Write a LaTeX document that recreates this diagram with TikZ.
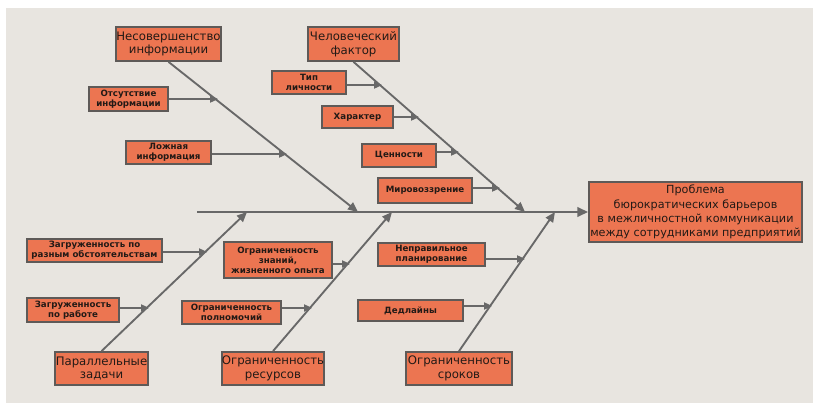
\documentclass[tikz,border=0pt]{standalone}
\usepackage{fontspec}
\setmainfont{DejaVu Sans}
\usetikzlibrary{arrows.meta}
\definecolor{bg}{HTML}{E8E5E0}
\definecolor{boxfill}{HTML}{EC7551}
\definecolor{boxline}{HTML}{5E5A58}
\definecolor{bone}{HTML}{686868}
\definecolor{txt}{HTML}{231A16}
\begin{document}
\begin{tikzpicture}[x=0.75pt,y=-0.75pt,
  box/.style={draw=boxline,line width=1.3pt,fill=boxfill,text=txt,align=center,inner sep=0pt,font=\fontsize{8.8}{10.4}\selectfont},
  subbox/.style={box,line width=1.1pt,font=\bfseries\fontsize{6.5}{7.6}\selectfont},
  bonel/.style={draw=bone,line width=1.4pt,-{Triangle[length=7.5pt,width=6.5pt]}},
  subl/.style={draw=bone,line width=0.9pt,-{Triangle[length=6pt,width=5.5pt]}},
  spine/.style={draw=bone,line width=1.7pt,-{Triangle[length=8pt,width=7pt]}}]
\useasboundingbox (0,0) rectangle (813,403);
\fill[white] (0,0) rectangle (813,403);
\fill[bg] (6,8) rectangle (813,403);

% effect
\node[box,font=\fontsize{8.4}{10.6}\selectfont,minimum width=213*0.75pt,minimum height=60*0.75pt] (eff) at (695.5,212)
  {Проблема\\бюрократических барьеров\\в межличностной коммуникации\\между сотрудниками предприятий};

% major causes
\node[box,minimum width=105*0.75pt,minimum height=34*0.75pt] (m1) at (168.5,44) {Несовершенство\\информации};
\node[box,minimum width=91*0.75pt,minimum height=34*0.75pt] (m2) at (353.5,44) {Человеческий\\фактор};
\node[box,minimum width=93*0.75pt,minimum height=33*0.75pt] (m3) at (101.5,368.5) {Параллельные\\задачи};
\node[box,minimum width=102*0.75pt,minimum height=33*0.75pt] (m4) at (273,368.5) {Ограниченность\\ресурсов};
\node[box,minimum width=106*0.75pt,minimum height=33*0.75pt] (m5) at (459,368.5) {Ограниченность\\сроков};

% spine
\coordinate (sp0) at (197,212);
\coordinate (t1) at (358,212);
\coordinate (t2) at (525,212);
\coordinate (t3) at (247,212);
\coordinate (t4) at (392,212);
\coordinate (t5) at (555,212);
\draw[spine] (sp0) -- (eff.west);

% bones
\draw[bonel] (m1.south) -- (t1);
\draw[bonel] (m2.south) -- (t2);
\draw[bonel] (m3.north) -- (t3);
\draw[bonel] (m4.north) -- (t4);
\draw[bonel] (m5.north) -- (t5);

% sub causes
\node[subbox,minimum width=79*0.75pt,minimum height=24*0.75pt] (s1) at (128.5,99) {Отсутствие\\информации};
\node[subbox,minimum width=85*0.75pt,minimum height=23*0.75pt] (s2) at (168.5,152.5) {Ложная\\информация};
\node[subbox,minimum width=74*0.75pt,minimum height=23*0.75pt] (s3) at (309,82.5) {Тип\\личности};
\node[subbox,minimum width=71*0.75pt,minimum height=22*0.75pt] (s4) at (357.5,117) {Характер};
\node[subbox,minimum width=74*0.75pt,minimum height=23*0.75pt] (s5) at (399,155.5) {Ценности};
\node[subbox,minimum width=94*0.75pt,minimum height=25*0.75pt] (s6) at (425,190.5) {Мировоззрение};
\node[subbox,minimum width=135*0.75pt,minimum height=23*0.75pt] (s7) at (94.5,250.5) {Загруженность по\\разным обстоятельствам};
\node[subbox,minimum width=92*0.75pt,minimum height=24*0.75pt] (s8) at (73,310) {Загруженность\\по работе};
\node[subbox,minimum width=108*0.75pt,minimum height=36*0.75pt] (s9) at (278,260) {Ограниченность\\знаний,\\жизненного опыта};
\node[subbox,minimum width=99*0.75pt,minimum height=23*0.75pt] (s10) at (231.5,312.5) {Ограниченность\\полномочий};
\node[subbox,minimum width=107*0.75pt,minimum height=23*0.75pt] (s11) at (431.5,254.5) {Неправильное\\планирование};
\node[subbox,minimum width=105*0.75pt,minimum height=21*0.75pt] (s12) at (410.5,310.5) {Дедлайны};

\coordinate (p1) at (218,99);
\coordinate (p2) at (287,154);
\coordinate (p3) at (382,85);
\coordinate (p4) at (419,117);
\coordinate (p5) at (459,152);
\coordinate (p6) at (500,188);
\coordinate (p7) at (207,252);
\coordinate (p8) at (149,308);
\coordinate (p9) at (350,264);
\coordinate (p10) at (312,308);
\coordinate (p11) at (525,259);
\coordinate (p12) at (492,306);

\foreach \i in {1,...,12}{
  \draw[subl] (s\i.east |- p\i) -- (p\i);
}
\end{tikzpicture}
\end{document}
